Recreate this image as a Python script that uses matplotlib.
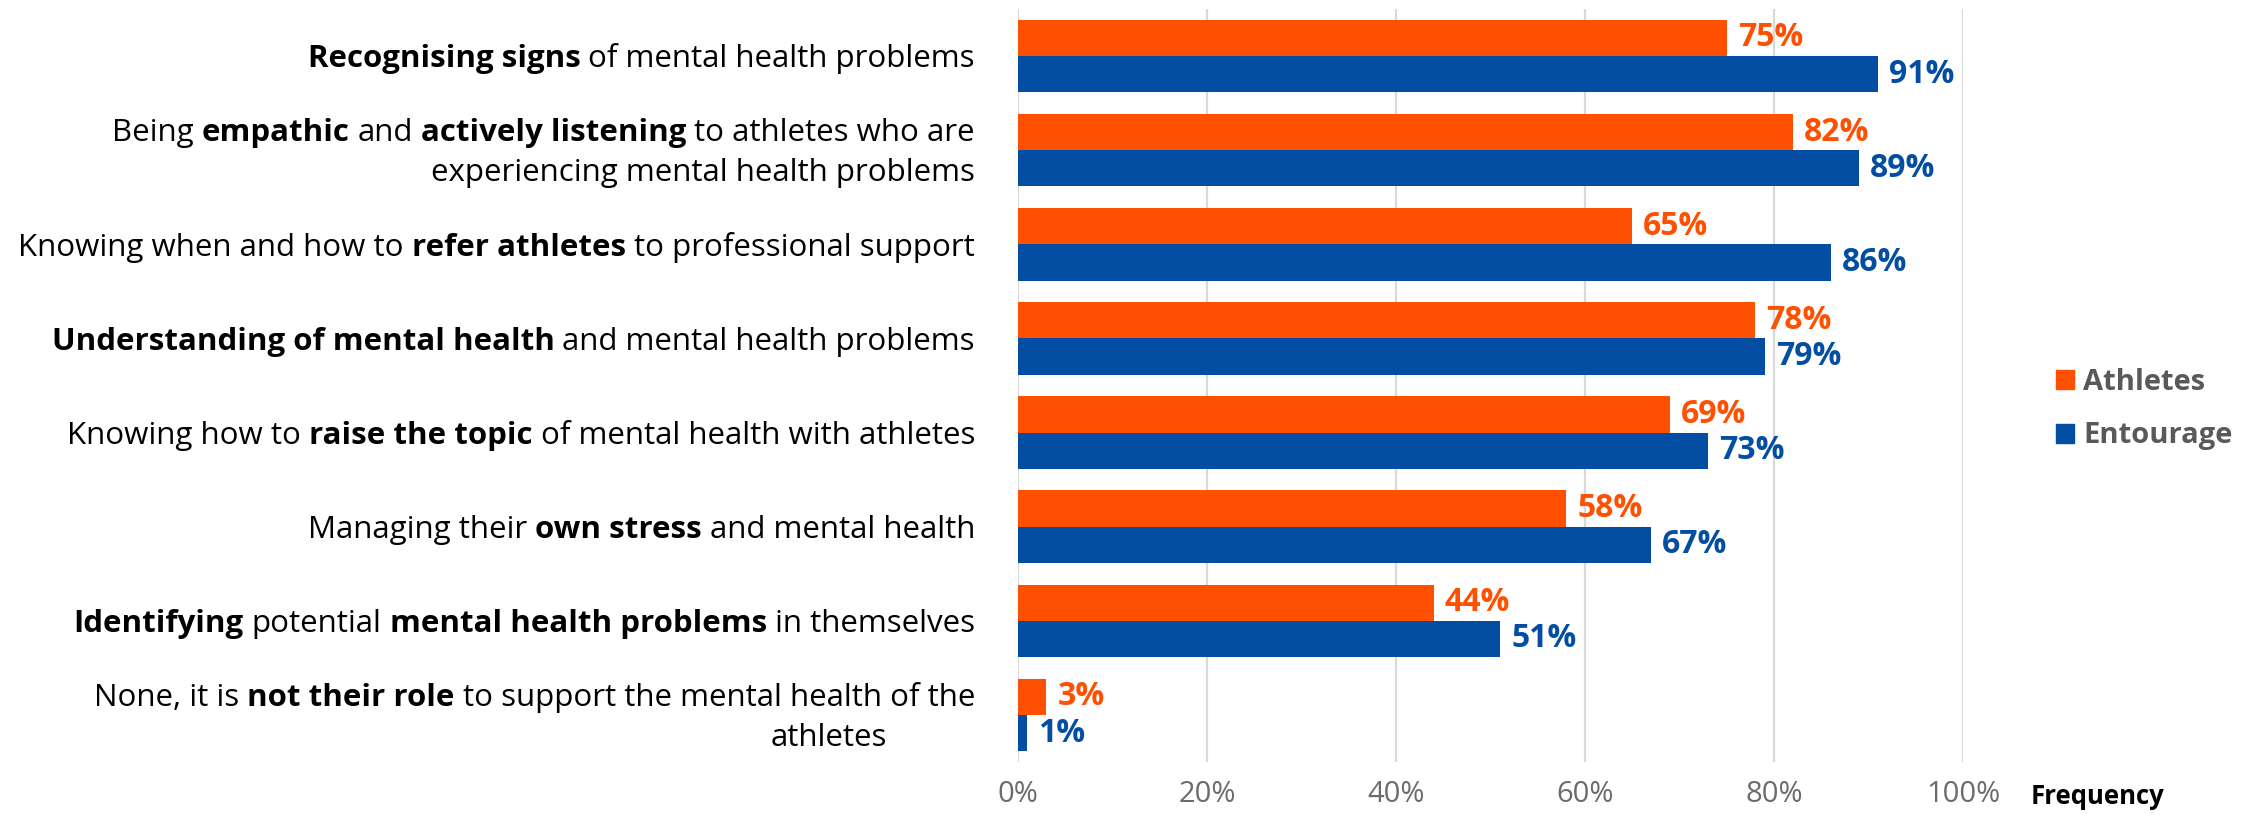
import matplotlib
matplotlib.use("Agg")
import matplotlib.pyplot as plt
from matplotlib.patches import Patch
from matplotlib.transforms import IdentityTransform

# Categories, top to bottom; **...** marks the bold parts, \n splits lines
categories = [
    "**Recognising signs** of mental health problems",
    "Being **empathic** and **actively listening** to athletes who are\nexperiencing mental health problems",
    "Knowing when and how to **refer athletes** to professional support",
    "**Understanding of mental health** and mental health problems",
    "Knowing how to **raise the topic** of mental health with athletes",
    "Managing their **own stress** and mental health",
    "**Identifying** potential **mental health problems** in themselves",
    "None, it is **not their role** to support the mental health of the\nathletes",
]
athletes = [75, 82, 65, 78, 69, 58, 44, 3]
entourage = [91, 89, 86, 79, 73, 67, 51, 1]
series_names = ["Athletes", "Entourage"]
x_ticks = [0, 20, 40, 60, 80, 100]
x_tick_labels = ["0%", "20%", "40%", "60%", "80%", "100%"]
axis_title = "Frequency"

ORANGE = "#FF4F00"
BLUE = "#034EA2"
GREY = "#595959"
FONT = "Open Sans"
FS = 22.5        # category labels
FS_VAL = 23      # bar value labels
FS_TICK = 21
FS_LEG = 21

plt.rcParams["font.family"] = [FONT, "DejaVu Sans"]

W, H, DPI = 2242, 815, 100
fig = plt.figure(figsize=(W / DPI, H / DPI), dpi=DPI)
ax = fig.add_axes([1018 / W, 1 - 762 / H, (1963 - 1018) / W, (762 - 9) / H])

y = list(range(len(categories)))
h = 0.385
b1 = ax.barh([v - h / 2 for v in y], athletes, height=h, color=ORANGE, label=series_names[0])
b2 = ax.barh([v + h / 2 for v in y], entourage, height=h, color=BLUE, label=series_names[1])
ax.bar_label(b1, labels=[f"{v}%" for v in athletes], padding=8, color=ORANGE,
             fontsize=FS_VAL, fontweight="bold")
ax.bar_label(b2, labels=[f"{v}%" for v in entourage], padding=8, color=BLUE,
             fontsize=FS_VAL, fontweight="bold")

ax.set_xlim(0, 100)
ax.set_ylim(len(categories) - 0.5, -0.5)
ax.set_xticks(x_ticks)
ax.set_xticklabels(x_tick_labels, color="#6B6B6B", fontsize=FS_TICK)
ax.set_yticks([])
ax.tick_params(axis="x", length=0, pad=13)
ax.grid(axis="x", color="#D9D9D9", lw=1.6)
ax.set_axisbelow(True)
for s in ax.spines.values():
    s.set_visible(False)

fig.text(2031 / W, 1 - 797 / H, axis_title, fontsize=18.5, fontweight="bold",
         color="black", ha="left", va="center")

handles = [Patch(color=ORANGE), Patch(color=BLUE)]
leg = fig.legend(handles, series_names, loc="center left",
                 bbox_to_anchor=(2030 / W, 1 - 409 / H), frameon=False,
                 handlelength=0.62, handleheight=0.62, handletextpad=0.3,
                 labelspacing=0.85, prop={"size": FS_LEG, "weight": "bold"})
for t in leg.get_texts():
    t.set_color(GREY)

# category labels with mixed bold/regular runs, right-aligned by hand
fig.canvas.draw()
r = fig.canvas.get_renderer()
ident = IdentityTransform()


def text_w(s, bold):
    t = fig.text(0, 0, s, fontsize=FS, fontweight="bold" if bold else "normal")
    w = t.get_window_extent(r).width
    t.remove()
    return w


space = {b: text_w("a a", b) - text_w("aa", b) for b in (False, True)}
font_px = FS * DPI / 72
line_gap = 40
right_edge = 975
line_shift = {(7, 1): -88}

for i, label in enumerate(categories):
    lines = label.split("\n")
    cy = ax.transData.transform((0, i))[1]
    for j, line in enumerate(lines):
        ly = cy + (len(lines) - 1) / 2 * line_gap - j * line_gap
        base = ly - 0.36 * font_px
        parts = line.split("**")
        x = right_edge + line_shift.get((i, j), 0)
        for k in range(len(parts) - 1, -1, -1):
            seg = parts[k]
            if not seg:
                continue
            bold = k % 2 == 1
            if seg.endswith(" "):
                x -= space[bold]
            s = seg.strip()
            t = fig.text(x, base, s, transform=ident, fontsize=FS,
                         fontweight="bold" if bold else "normal",
                         color="black", ha="right", va="baseline")
            x -= t.get_window_extent(r).width
            if seg.startswith(" "):
                x -= space[bold]

fig.savefig("out.png", dpi=DPI)
